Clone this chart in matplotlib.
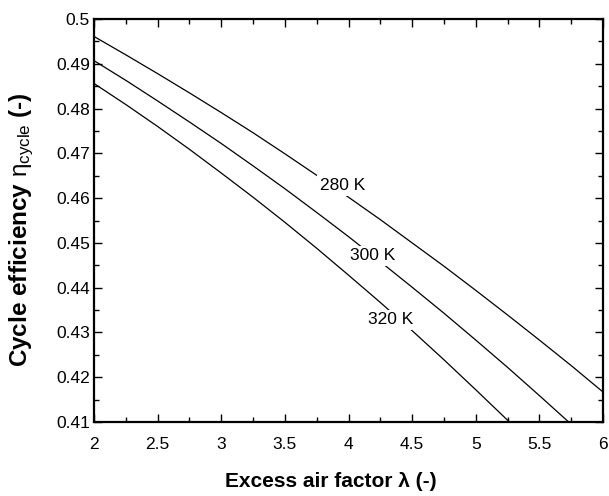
import matplotlib
matplotlib.use("Agg")
import matplotlib.pyplot as plt
from matplotlib.ticker import MultipleLocator, FuncFormatter

plt.rcParams['font.family'] = ['Liberation Sans', 'DejaVu Sans']
plt.rcParams['mathtext.fontset'] = 'custom'
plt.rcParams['mathtext.rm'] = 'Liberation Sans'
plt.rcParams['mathtext.it'] = 'Liberation Sans'
plt.rcParams['mathtext.bf'] = 'Liberation Sans:bold'

lam = [2.0, 2.25, 2.5, 2.75, 3.0, 3.25, 3.5, 3.75, 4.0,
       4.25, 4.5, 4.75, 5.0, 5.25, 5.5, 5.75, 6.0]
eff_280 = [0.4961, 0.4920, 0.4878, 0.4835, 0.4791, 0.4746, 0.4699, 0.4651, 0.4602,
           0.4552, 0.4500, 0.4448, 0.4394, 0.4339, 0.4283, 0.4226, 0.4167]
eff_300 = [0.4907, 0.4863, 0.4817, 0.4770, 0.4722, 0.4672, 0.4621, 0.4568, 0.4514,
           0.4458, 0.4401, 0.4343, 0.4283, 0.4222, 0.4159, 0.4095, 0.4029]
eff_320 = [0.4856, 0.4809, 0.4760, 0.4709, 0.4656, 0.4602, 0.4546, 0.4488, 0.4428,
           0.4367, 0.4304, 0.4239, 0.4172, 0.4104, 0.4034, 0.3962, 0.3888]
series_labels = ["280 K", "300 K", "320 K"]
label_pos_x = [3.95, 4.19, 4.33]
label_pos_y = [0.4628, 0.4471, 0.4328]

fig = plt.figure(figsize=(6.09, 4.96), dpi=100)
ax = fig.add_axes([94/609, 1-422/496, (603-94)/609, (422-19)/496])

for y in (eff_280, eff_300, eff_320):
    ax.plot(lam, y, color='black', lw=0.9)

for t, x, y in zip(series_labels, label_pos_x, label_pos_y):
    ax.text(x, y, t, ha='center', va='center', fontsize=12.5,
            bbox=dict(facecolor='white', edgecolor='none', pad=2))

ax.set_xlim(2, 6)
ax.set_ylim(0.41, 0.5)
ax.xaxis.set_major_locator(MultipleLocator(0.5))
ax.xaxis.set_minor_locator(MultipleLocator(0.25))
ax.yaxis.set_major_locator(MultipleLocator(0.01))
ax.yaxis.set_minor_locator(MultipleLocator(0.005))
ax.xaxis.set_major_formatter(FuncFormatter(lambda v, p: f"{v:g}"))
ax.yaxis.set_major_formatter(FuncFormatter(lambda v, p: f"{v:g}"))

ax.tick_params(which='both', direction='in', top=True, right=True, width=1)
ax.tick_params(which='major', length=6, labelsize=12.5)
ax.tick_params(which='minor', length=3.6)
ax.tick_params(axis='x', which='major', pad=10.5)
ax.tick_params(axis='y', which='major', pad=3)
for s in ax.spines.values():
    s.set_linewidth(1.6)

ax.set_xlabel("Excess air factor λ (-)", fontsize=15, fontweight='bold', va='top')
ax.xaxis.set_label_coords(0.4656, -0.1233)
ax.set_ylabel(r"Cycle efficiency $\eta_{\mathrm{cycle}}$ (-)", fontsize=17.5, fontweight='bold')
ax.yaxis.set_label_coords(-0.113, 0.476)

fig.savefig("out.png", dpi=100)
